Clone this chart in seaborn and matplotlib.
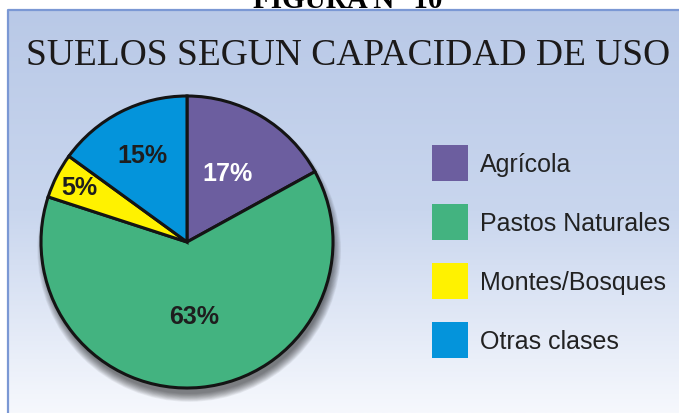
import matplotlib
matplotlib.use("Agg")
import matplotlib.pyplot as plt
import matplotlib.patches as mpatches
from matplotlib.colors import LinearSegmentedColormap
import numpy as np
import seaborn as sns

# data
categorias = ["Agrícola", "Pastos Naturales", "Montes/Bosques", "Otras clases"]
porcentajes = [17, 63, 5, 15]
colores = ["#6c5e9f", "#43b380", "#fff200", "#0494db"]
color_etiqueta = ["white", "#1e1e1e", "#1e1e1e", "#1e1e1e"]
dist_etiqueta = [0.55, 0.51, 0.83, 0.67]

titulo = "SUELOS SEGUN CAPACIDAD DE USO"
figura = "FIGURA N° 10"

sns.set_theme(style="white")
plt.rcParams["font.family"] = ["Liberation Sans", "DejaVu Sans"]

W, H = 679, 414
fig = plt.figure(figsize=(W / 100, H / 100), dpi=100)

# fondo con degradado
bg = fig.add_axes([0, 0, 1, 1])
bg.set_xlim(0, W)
bg.set_ylim(H, 0)
bg.axis("off")
cmap = LinearSegmentedColormap.from_list("fondo", ["#b9c9e7", "#c9d6ee", "#f6f8fd"])
grad = np.linspace(0, 1, 256).reshape(-1, 1)
bg.imshow(grad, cmap=cmap, aspect="auto", extent=(8, W, H, 11), zorder=0)
bg.plot([8, 8, W], [H, 11, 11], color="#7b98d4", lw=1.6, zorder=1)

bg.text(348, 65, titulo, family=["Liberation Serif", "DejaVu Serif"], fontsize=27,
        color="#1c1a1a", ha="center", va="baseline")
# cabecera cortada por el borde superior, como en el original
bg.text(348, 8, figura, family=["Liberation Serif", "DejaVu Serif"], fontsize=21,
        fontweight="bold", color="black", ha="center", va="baseline")

# pastel
cx, cy, r = 187, 243, 146
ax = fig.add_axes([(cx - r) / W, (H - cy - r) / H, 2 * r / W, 2 * r / H])
ax.axis("off")

# sombra difusa, desplazada hacia abajo
for i in range(12):
    sombra = mpatches.Circle((0.015, -0.055), 0.985 + 0.005 * i, color="black",
                             alpha=0.05, lw=0, zorder=0, clip_on=False)
    ax.add_patch(sombra)

wedges, _ = ax.pie(porcentajes, colors=colores, startangle=90, counterclock=False,
                   radius=1, wedgeprops=dict(edgecolor="#141414", linewidth=2.2))
for w in wedges:
    w.set_zorder(2)
    w.set_clip_on(False)

for w, p, c, d in zip(wedges, porcentajes, color_etiqueta, dist_etiqueta):
    ang = np.deg2rad((w.theta1 + w.theta2) / 2)
    ax.text(d * np.cos(ang), d * np.sin(ang), f"{p}%", ha="center", va="center",
            fontsize=18, fontweight="bold", color=c, zorder=3)

ax.set_xlim(-1, 1)
ax.set_ylim(-1, 1)
ax.set_aspect("equal")

# leyenda
handles = [mpatches.Patch(facecolor=c, edgecolor="none") for c in colores]
fs = 18
px = fs * 100 / 72
hh = (36 / px - 0.245) / 0.65
leg = fig.legend(handles, categorias, loc="upper left",
                 bbox_to_anchor=(432 / W, 1 - 146 / H), frameon=False,
                 fontsize=fs, handlelength=36 / px, handleheight=hh,
                 labelspacing=(59 - 36) / px, handletextpad=12 / px, borderpad=0,
                 borderaxespad=0)
for t in leg.get_texts():
    t.set_color("#222222")

fig.savefig("out.png", dpi=100)
